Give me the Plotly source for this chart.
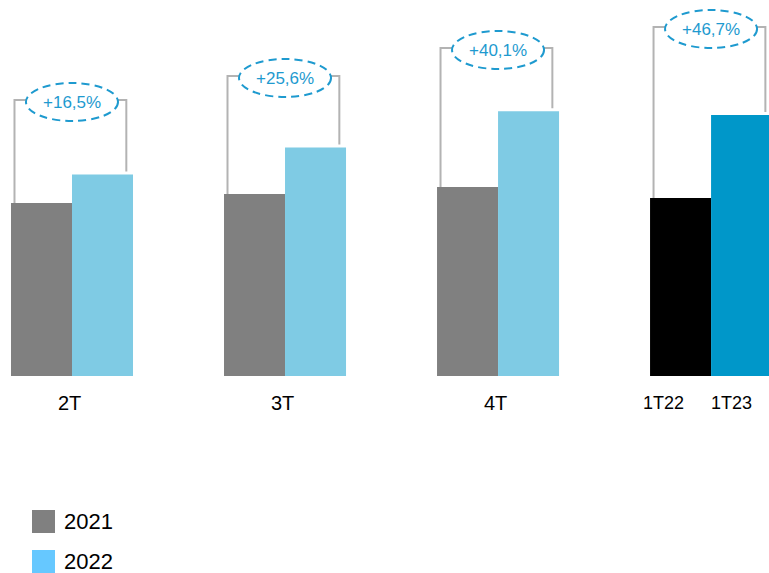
import plotly.graph_objects as go

# Quarterly comparison: same quarter of the previous year vs. current year
periods = ["2T", "3T", "4T", "1T"]
values_prev = [173, 182, 189, 178]
values_curr = [201.5, 228.6, 264.8, 261.1]
growth_labels = ["+16,5%", "+25,6%", "+40,1%", "+46,7%"]
bar_labels_prev = ["", "", "", "1T22"]
bar_labels_curr = ["", "", "", "1T23"]
legend_labels = ["2021", "2022"]

# styling
W, H = 769, 573
PLOT_BOTTOM = 376            # pixel row of the bar baseline
BAR_W = 0.2864
colors_prev = ["#808080", "#808080", "#808080", "#000000"]
colors_curr = ["#7FCBE4", "#7FCBE4", "#7FCBE4", "#0097C9"]
legend_colors = ["#808080", "#66C8FF"]
accent = "#1E9ACF"
bracket_color = "#B3B3B3"
bracket_top = [276, 300, 328, 349]
font_family = "Liberation Sans, Arial, sans-serif"

x = list(range(len(periods)))

fig = go.Figure()
fig.add_trace(go.Bar(x=x, y=values_prev, width=BAR_W, offset=-BAR_W,
                     marker=dict(color=colors_prev, line=dict(width=0)),
                     name=legend_labels[0], showlegend=False, hoverinfo="skip"))
fig.add_trace(go.Bar(x=x, y=values_curr, width=BAR_W, offset=0,
                     marker=dict(color=colors_curr, line=dict(width=0)),
                     name=legend_labels[1], showlegend=False, hoverinfo="skip"))


def py_to_paper(py):
    return (PLOT_BOTTOM - py) / PLOT_BOTTOM


def px_to_paper(px):
    return px / W


shapes = []
annotations = []
for i, (p, c, top, lab) in enumerate(zip(values_prev, values_curr, bracket_top, growth_labels)):
    xl = i - 0.27
    xr = i + 0.255
    shapes.append(dict(type="path",
                       path=f"M {xl},{p} L {xl},{top} L {xr},{top} L {xr},{c + 3}",
                       line=dict(color=bracket_color, width=2), xref="x", yref="y"))
    shapes.append(dict(type="circle", xref="x", yref="y",
                       x0=i - 0.216, x1=i + 0.216, y0=top - 21, y1=top + 17,
                       fillcolor="white",
                       line=dict(color=accent, width=2, dash="8px,5px")))
    annotations.append(dict(x=i, y=top - 2, xref="x", yref="y", text=lab,
                            showarrow=False, font=dict(size=17, color=accent, family=font_family),
                            xanchor="center", yanchor="middle"))

# category labels under the bars
label_y = py_to_paper(403)
for i, name in enumerate(periods):
    if bar_labels_prev[i] or bar_labels_curr[i]:
        annotations.append(dict(x=i - BAR_W / 2 - 0.08, y=label_y, xref="x", yref="paper",
                                text=bar_labels_prev[i], showarrow=False,
                                xanchor="center", yanchor="middle",
                                font=dict(size=18, color="black", family=font_family)))
        annotations.append(dict(x=i + BAR_W / 2 - 0.045, y=label_y, xref="x", yref="paper",
                                text=bar_labels_curr[i], showarrow=False,
                                xanchor="center", yanchor="middle",
                                font=dict(size=18, color="black", family=font_family)))
    else:
        annotations.append(dict(x=i - 0.01, y=label_y, xref="x", yref="paper",
                                text=name, showarrow=False,
                                xanchor="center", yanchor="middle",
                                font=dict(size=20, color="black", family=font_family)))

# legend drawn as squares with labels
for k, (lab, col) in enumerate(zip(legend_labels, legend_colors)):
    top_px = 510 + 40 * k
    shapes.append(dict(type="rect", xref="paper", yref="paper",
                       x0=px_to_paper(32), x1=px_to_paper(55),
                       y0=py_to_paper(top_px + 23), y1=py_to_paper(top_px),
                       fillcolor=col, line=dict(width=0)))
    annotations.append(dict(x=px_to_paper(62), y=py_to_paper(top_px + 11), xref="paper", yref="paper",
                            text=lab, showarrow=False, xanchor="left", yanchor="middle",
                            font=dict(size=22, color="black", family=font_family)))

fig.update_layout(
    width=W, height=H,
    margin=dict(l=0, r=0, t=0, b=H - PLOT_BOTTOM, pad=0),
    paper_bgcolor="white", plot_bgcolor="white",
    barmode="overlay",
    showlegend=False,
    xaxis=dict(range=[-0.338, 3.272], showgrid=False, zeroline=False, showline=False,
               showticklabels=False, fixedrange=True),
    yaxis=dict(range=[0, PLOT_BOTTOM], showgrid=False, zeroline=False, showline=False,
               showticklabels=False, fixedrange=True),
    shapes=shapes,
    annotations=annotations,
    font=dict(family=font_family),
)

fig.write_html("out.html")
